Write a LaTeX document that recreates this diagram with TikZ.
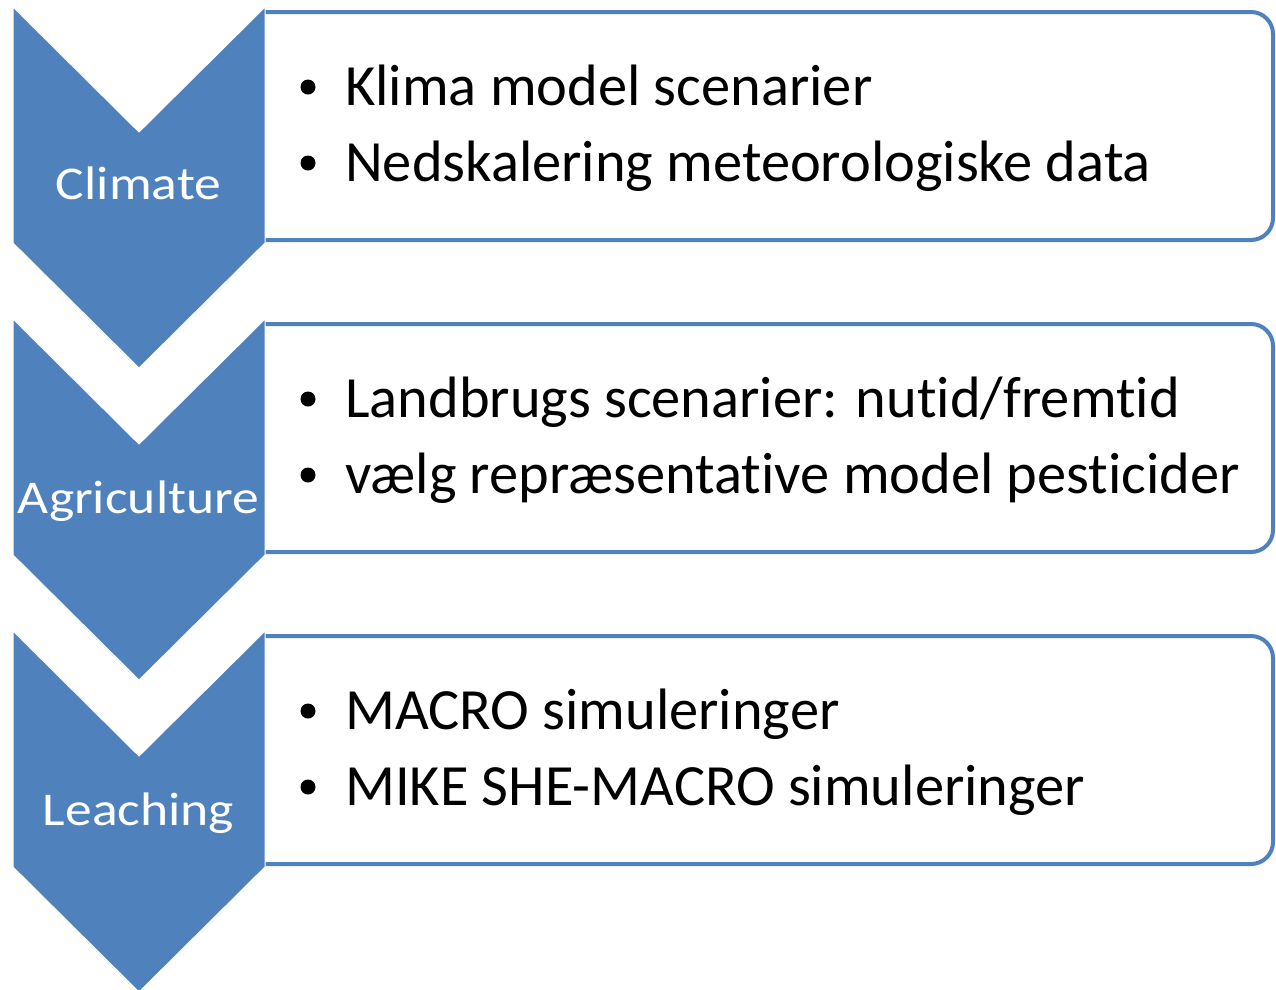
\documentclass[tikz,border=0pt]{standalone}
\usepackage{fontspec}
\setmainfont{Carlito}[Ligatures={NoCommon}]
\definecolor{chev}{HTML}{4F81BD}
\begin{document}
\begin{tikzpicture}[x=1pt,y=-1pt,
  chevron/.style={fill=chev, draw=white, line width=1pt, line join=miter},
  panel/.style={draw=chev, line width=4pt, fill=white},
  steplabel/.style={text=white, font=\fontsize{47}{54}\selectfont, inner sep=0pt,
    anchor=base, xscale=1.14},
  item/.style={font=\fontsize{58.4}{66}\selectfont, anchor=base west, inner sep=0pt},
  dot/.style={circle, fill=black, minimum size=15pt, inner sep=0pt}]
\useasboundingbox (0,0) rectangle (1276,989);

% one stage: panel with rounded right corners, then chevron on top
\foreach \dy/\nm/\lab/\bl in {0/a/Climate/199, 312/b/Agriculture/201, 624/c/Leaching/201}{
  \begin{scope}[shift={(0,\dy)}]
    \path[panel] (265,12) -- (1251,12) arc[start angle=-90, end angle=0, radius=22]
      -- (1273,218) arc[start angle=0, end angle=90, radius=22] -- (265,240);
    \path[chevron] (13,7) -- (139,132) -- (265,7) -- (265,243) -- (139,368)
      -- (13,243) -- cycle;
    \node[steplabel] (lab\nm) at (138.5,\bl) {\lab};
    \node[dot] (d\nm1) at (308,87) {};
    \node[dot] (d\nm2) at (308,163) {};
  \end{scope}
}

\node[item] (ta1) at (345,105) {Klima model scenarier};
\node[item] (ta2) at (345,181) {Nedskalering meteorologiske data};
\node[item] (tb1) at (345,417) {Landbrugs scenarier: nutid/fremtid};
\node[item] (tb2) at (345,493) {vælg repræsentative model pesticider};
\node[item] (tc1) at (345,729) {MACRO simuleringer};
\node[item] (tc2) at (345,805) {MIKE SHE-MACRO simuleringer};
\end{tikzpicture}
\end{document}
